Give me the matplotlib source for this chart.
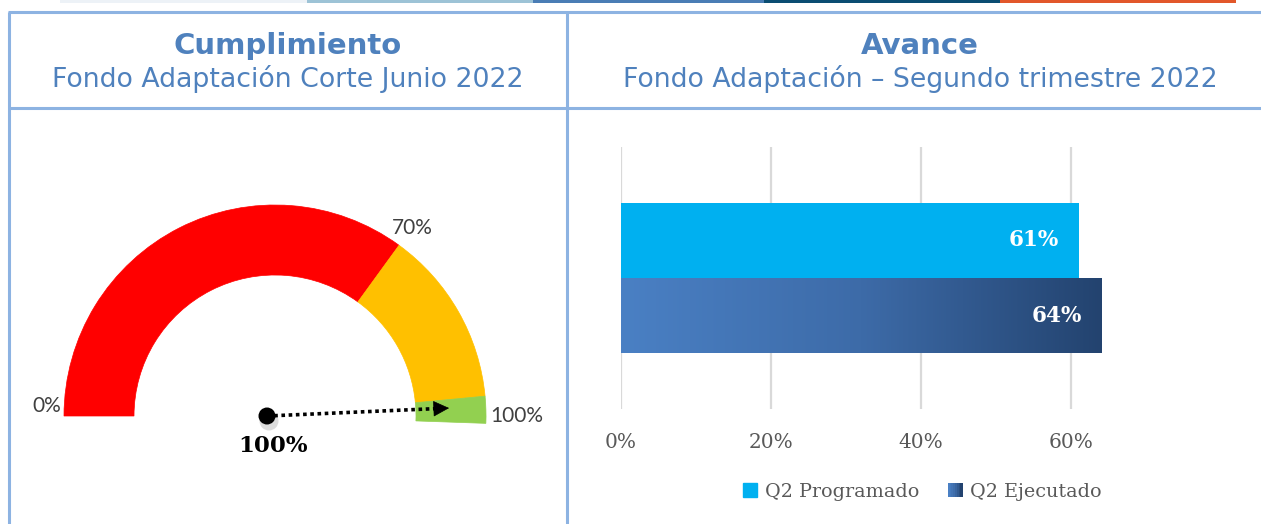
import numpy as np
import matplotlib
matplotlib.use("Agg")
import matplotlib.pyplot as plt
from matplotlib.patches import Wedge, Circle, Rectangle, Patch
from matplotlib.colors import LinearSegmentedColormap
from matplotlib.legend_handler import HandlerBase
from matplotlib.ticker import FuncFormatter

# ---- data ----
gauge_bands = [0, 70, 97, 100]
gauge_colors = ["#ff0000", "#ffc000", "#92d050"]
gauge_ticks = [0, 70, 100]
gauge_tick_labels = ["0%", "70%", "100%"]
gauge_value = 100

bar_categories = ["Q2 Programado", "Q2 Ejecutado"]
bar_values = [0.61, 0.64]
bar_ticks = [0.0, 0.2, 0.4, 0.6]

left_title = "Cumplimiento"
left_subtitle = "Fondo Adaptación Corte Junio 2022"
right_title = "Avance"
right_subtitle = "Fondo Adaptación \u2013 Segundo trimestre 2022"

strip_colors = ["#edf2f7", "#9dc3d6", "#4a7db5", "#0b4d72", "#e2572a"]

W, H = 1261, 524
BLUE = "#4f81bd"
LINE = "#8db3e2"

fig = plt.figure(figsize=(W / 100, H / 100), dpi=100)

# full-figure axes in pixel units (y measured from top)
bg = fig.add_axes([0, 0, 1, 1])
bg.set_xlim(0, W)
bg.set_ylim(H, 0)
bg.axis("off")

# decorative strip at top
xs = [60, 307, 533, 764, 1000, 1236]
for i, c in enumerate(strip_colors):
    bg.add_patch(Rectangle((xs[i], 0), xs[i + 1] - xs[i], 3, color=c, lw=0))

# table borders
bg.plot([8, W], [12, 12], color=LINE, lw=2.2, solid_capstyle="butt")
bg.plot([8, W], [108, 108], color=LINE, lw=2.2, solid_capstyle="butt")
bg.plot([9, 9], [12, H], color=LINE, lw=2.2, solid_capstyle="butt")
bg.plot([567, 567], [12, H], color=LINE, lw=2.2, solid_capstyle="butt")

# headers
bg.text(288, 46, left_title, color=BLUE, fontsize=21, fontweight="bold",
        ha="center", va="center", family="DejaVu Sans")
bg.text(288, 79, left_subtitle, color=BLUE, fontsize=19.3,
        ha="center", va="center", family="DejaVu Sans")
bg.text(920, 46, right_title, color=BLUE, fontsize=21, fontweight="bold",
        ha="center", va="center", family="DejaVu Sans")
bg.text(920, 79, right_subtitle, color=BLUE, fontsize=19.3,
        ha="center", va="center", family="DejaVu Sans")

# ---- gauge ----
ga = fig.add_axes([0, 0, 1, 1])
ga.set_xlim(0, W)
ga.set_ylim(0, H)
ga.axis("off")
ga.patch.set_alpha(0)

cx, cy = 275, H - 416
r_out, r_in = 211, 141


def ang(p):
    return 180 - p * 1.8


for i, c in enumerate(gauge_colors):
    t2 = ang(gauge_bands[i])
    t1 = ang(gauge_bands[i + 1])
    if i == len(gauge_colors) - 1:
        t1 -= 2
    ga.add_patch(Wedge((cx, cy), r_out, t1, t2, width=r_out - r_in,
                       facecolor=c, edgecolor=c, lw=0.5))

lab_pos = {0: (61, H - 412, "right"), 70: (392, H - 234, "left"), 100: (490, H - 422, "left")}
for t, lab in zip(gauge_ticks, gauge_tick_labels):
    x, y, ha = lab_pos[t]
    ga.text(x, y, lab, fontsize=15, color="#404040", ha=ha, va="baseline", family="Lato")

# needle
dx, dy = 267, H - 416
theta = np.deg2rad(ang(gauge_value) + 2.5)
L = 185
tip = (dx + L * np.cos(theta), dy + L * np.sin(theta))
base = (dx + (L - 16) * np.cos(theta), dy + (L - 16) * np.sin(theta))
ga.plot([dx, base[0]], [dy, base[1]], color="black", lw=2.6, linestyle=(0, (1, 1)))
ga.annotate("", xy=tip, xytext=base,
            arrowprops=dict(arrowstyle="-|>", color="black", lw=0.5, mutation_scale=26))
ga.add_patch(Circle((dx + 2, dy - 5), 9.5, color="#bbbbbb", alpha=0.5, lw=0))
ga.add_patch(Circle((dx, dy), 8.5, color="black", lw=0))
ga.text(273, H - 446, f"{gauge_value}%", fontsize=16.5, fontweight="bold",
        family="DejaVu Serif", ha="center", va="center", color="black")

# ---- bar chart ----
x0, x1 = 621, 1146
ytop, ybot = 147, 409
ax = fig.add_axes([x0 / W, (H - ybot) / H, (x1 - x0) / W, (ybot - ytop) / H])
pos = np.arange(len(bar_categories))
half = (ybot - ytop) / 75 / 2

prog_color = "#00b0f0"
grad = LinearSegmentedColormap.from_list("grad", ["#4a80c4", "#3d6ba8", "#23436f"])

bars = ax.barh(pos, bar_values, height=1.0, color=[prog_color, "none"], lw=0, zorder=2)
gb = bars[1]
img = ax.imshow(np.linspace(0, 1, 256).reshape(1, -1), cmap=grad, aspect="auto",
                extent=(0, bar_values[1], pos[1] + 0.5, pos[1] - 0.5), zorder=2)
img.set_clip_path(gb)
ax.set_xlim(0, 0.7)
ax.set_ylim(0.5 + half, 0.5 - half)

for p, v in zip(pos, bar_values):
    ax.annotate(f"{v:.0%}", xy=(v, p), xytext=(-14, 0), textcoords="offset points",
                ha="right", va="center", color="white", fontsize=15.5,
                fontweight="bold", family="DejaVu Serif", zorder=3)

ax.set_xticks(bar_ticks)
ax.xaxis.set_major_formatter(FuncFormatter(lambda v, _: f"{v:.0%}"))
ax.tick_params(axis="x", length=0, pad=17, labelsize=14.5, labelcolor="#595959")
for lab in ax.get_xticklabels():
    lab.set_family("DejaVu Serif")
ax.set_yticks([])
ax.grid(axis="x", color="#d9d9d9", lw=1.6, zorder=0)
ax.set_axisbelow(True)
for s in ax.spines.values():
    s.set_visible(False)
ax.patch.set_alpha(0)


class GradHandler(HandlerBase):
    def create_artists(self, legend, orig, xd, yd, w, h, fontsize, trans):
        n = 8
        return [Rectangle((xd + w * i / n, yd), w / n + 0.3, h, color=grad(i / (n - 1)),
                          transform=trans, lw=0) for i in range(n)]


handles = [Patch(color=prog_color), Patch(color="#35609a")]
leg = fig.legend(handles, bar_categories, loc="center",
                 bbox_to_anchor=(922 / W, 1 - 492 / H), ncol=2, frameon=False,
                 handlelength=0.75, handleheight=0.75, handletextpad=0.4,
                 columnspacing=1.5, prop={"family": "DejaVu Serif", "size": 13.8},
                 handler_map={handles[1]: GradHandler()})
for t in leg.get_texts():
    t.set_color("#595959")

fig.savefig("out.png", dpi=100)
